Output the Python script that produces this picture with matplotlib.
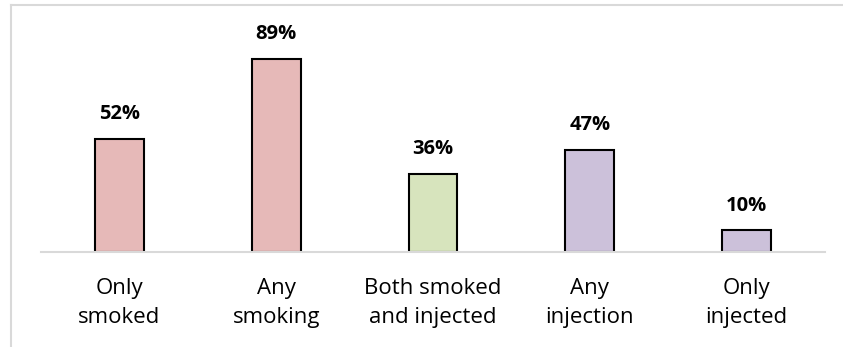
import matplotlib.pyplot as plt
from matplotlib.lines import Line2D

# Data
categories = ['Only\nsmoked', 'Any\nsmoking', 'Both smoked\nand injected', 'Any\ninjection', 'Only\ninjected']
values = [52, 89, 36, 47, 10]
bar_colors = ['#E6B9B8', '#E6B9B8', '#D7E4BD', '#CCC1DA', '#CCC1DA']

W, H = 843, 347
fig = plt.figure(figsize=(W / 100, H / 100), dpi=100)

# plot area in pixels: x 41..825, baseline at y=252
left, right = 41, 825
base, top = 252, 10
ax = fig.add_axes([left / W, 1 - base / H, (right - left) / W, (base - top) / H])

x = list(range(len(values)))
ax.bar(x, values, width=0.31, color=bar_colors, edgecolor='black', linewidth=1.5, zorder=3)

for xi, v in zip(x, values):
    ax.annotate(f'{v}%', (xi, v), xytext=(0, 10.5), textcoords='offset points',
                ha='center', va='bottom', fontsize=14.5, fontweight='bold',
                family='Open Sans')

ax.set_xlim(-0.5, len(values) - 0.5)
ax.set_ylim(0, (base - top) / (113 / 52))
ax.set_xticks(x)
ax.set_xticklabels(categories, fontsize=16, family='Open Sans', linespacing=1.45)
ax.tick_params(axis='x', length=0, pad=19)
ax.set_yticks([])
for s in ['top', 'right', 'left']:
    ax.spines[s].set_visible(False)
ax.spines['bottom'].set_color('#D9D9D9')
ax.spines['bottom'].set_linewidth(1.5)
ax.spines['bottom'].set_zorder(4)

# outer chart frame (left and top edges visible)
fig.add_artist(Line2D([11 / W, 11 / W], [0, 1 - 5 / H], color='#D9D9D9', linewidth=1.5))
fig.add_artist(Line2D([11 / W, 842 / W], [1 - 5 / H, 1 - 5 / H], color='#D9D9D9', linewidth=1.5))

fig.savefig('out.png', dpi=100)
